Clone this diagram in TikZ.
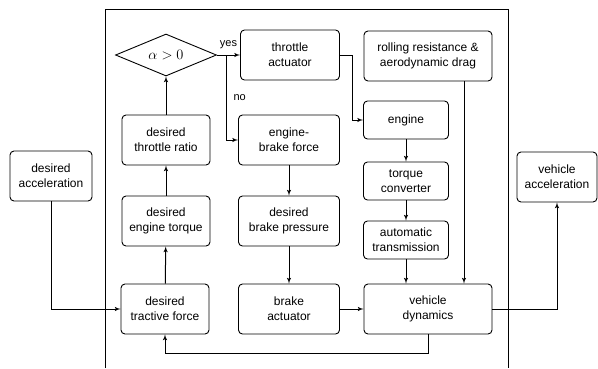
\documentclass[tikz,border=0pt]{standalone}
\usepackage{fontspec}
\setmainfont{Liberation Sans}
\usetikzlibrary{arrows, arrows.meta, positioning, shapes}

\begin{document}
\begin{tikzpicture}[x=1pt, y=-1pt, >=latex', font=\fontsize{12}{15}\selectfont,
block/.style={rectangle, draw, line width=0.9pt, rounded corners=4pt, align=center, minimum width=88pt, minimum height=50pt, inner sep=2pt},
smallblock/.style={block, minimum width=85pt, minimum height=38pt},
wideblock/.style={block, minimum width=128pt},
decision/.style={diamond, draw, line width=0.9pt, aspect=2.4, inner sep=0pt, minimum width=101pt, minimum height=42pt, font=\fontsize{14}{16}\selectfont},
tag/.style={font=\fontsize{11}{13}\selectfont, inner sep=3pt},
line/.style={draw, line width=1pt, -latex'}]
\useasboundingbox (0,0) rectangle (598,368);

% Frame
\draw[line width=0.8pt] (105,368) -- (105,9) -- (508,9) -- (508,368);

% Nodes
\node[block, minimum width=82pt] (accel) at (51,176) {desired\\acceleration};
\node[block] (tractive) at (165,309) {desired\\tractive force};
\node[block] (torque) at (166,221) {desired\\engine torque};
\node[block] (ratio) at (166,140) {desired\\throttle ratio};
\node[decision] (alpha) at (166,55) {$\alpha>0$};

\node[block, minimum width=99pt] (throttle) at (290,55) {throttle\\actuator};
\node[block, minimum width=101pt] (engbrake) at (289,140) {engine-\\brake force};
\node[block, minimum width=101pt] (pressure) at (289,221) {desired\\brake pressure};
\node[block, minimum width=101pt] (brake) at (289,309) {brake\\actuator};

\node[wideblock] (rolling) at (428,56) {rolling resistance \&\\aerodynamic drag};
\node[smallblock] (engine) at (406,120) {engine};
\node[smallblock] (converter) at (406,181) {torque\\converter};
\node[smallblock] (trans) at (406,240) {automatic\\transmission};
\node[wideblock] (dynamics) at (428,309) {vehicle\\dynamics};

\node[block, minimum width=80pt] (vaccel) at (557,177) {vehicle\\acceleration};

\coordinate (split) at (226,55);

% Paths
\path[line] (accel.south) |- (tractive.west);
\path[line] (tractive) -- (torque);
\path[line] (torque) -- (ratio);
\path[line] (ratio) -- (alpha);
\path[line] (alpha.east) -- node[tag, above, yshift=3pt] {yes} (throttle.west);
\path[line] (split) |- node[tag, pos=0.25, right, xshift=4pt] {no} (engbrake.west);
\path[line] (throttle.east) -- ++(13,0) |- (engine.west);
\path[line] (engine) -- (converter);
\path[line] (converter) -- (trans);
\path[line] (trans) -- (trans |- dynamics.north);
\path[line] ([xshift=36pt]rolling.south) -- ([xshift=36pt]dynamics.north);
\path[line] (engbrake) -- (pressure);
\path[line] (pressure) -- (brake);
\path[line] (brake) -- (dynamics);
\path[line] (dynamics.east) -| (vaccel.south);

% Feedback
\path[line] (dynamics.south) -- ++(0,19) -| (tractive.south);
\end{tikzpicture}
\end{document}
